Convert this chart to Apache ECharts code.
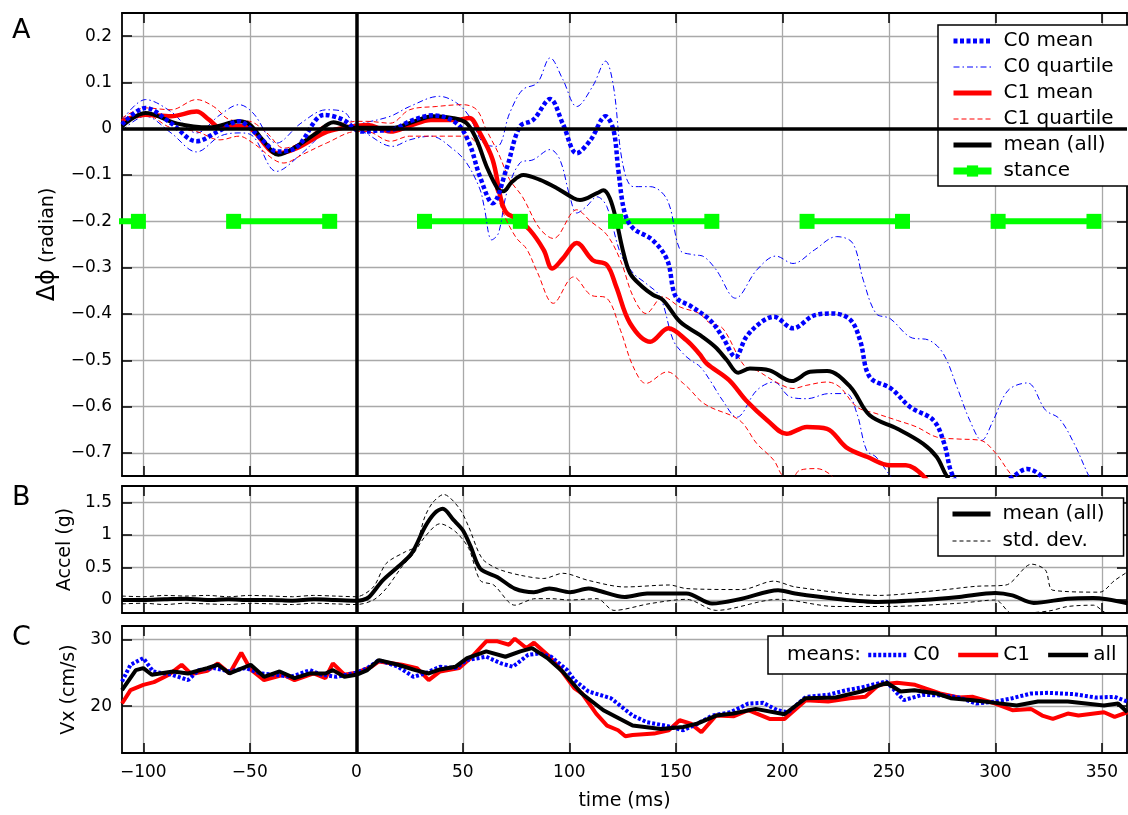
<!DOCTYPE html>
<html lang="en">
<head>
<meta charset="UTF-8">
<title>Phase shift, acceleration and speed</title>
<style>html,body{margin:0;padding:0;background:#fff}</style>
</head>
<body>
<div class="main" style="width:1128px;height:815px"></div>
<script src="https://cdn.jsdelivr.net/npm/echarts@6/dist/echarts.min.js"></script>
<script>
// ---- data (time in ms) ----
var xTicks = [-100, -50, 0, 50, 100, 150, 200, 250, 300, 350];
var phiTicks = [-0.7, -0.6, -0.5, -0.4, -0.3, -0.2, -0.1, 0, 0.1, 0.2];
var accelTicks = [0, 0.5, 1, 1.5];
var vxTicks = [20, 30];

// panel A: phase difference (radian)
var c0Mean = [[-110,0.009],[-99,0.045],[-87,0.012],[-75,-0.027],[-65,-0.006],[-55,0.016],[-50,0.002],[-44,-0.025],[-37,-0.049],[-28,-0.04],[-15,0.03],[-6,0.019],[0,-0.003],[3,-0.006],[10,-0.004],[17,-0.002],[25,0.016],[36,0.029],[47,0.012],[53,-0.031],[58,-0.103],[64,-0.161],[70.6,-0.085],[76.8,0.005],[83,0.019],[91,0.064],[97,0.01],[103.5,-0.053],[110,-0.024],[117,0.027],[120.7,-0.002],[123,-0.089],[126,-0.182],[130,-0.215],[139,-0.24],[146,-0.284],[150,-0.363],[157,-0.383],[166,-0.413],[172,-0.45],[178,-0.493],[183,-0.45],[190,-0.418],[196,-0.406],[205,-0.431],[215,-0.403],[224,-0.399],[232,-0.413],[236.5,-0.457],[241,-0.536],[251,-0.561],[260,-0.601],[271,-0.63],[276,-0.68],[280,-0.749],[290,-0.81],[300,-0.78],[308,-0.752],[315,-0.735],[322,-0.752],[330,-0.8],[345,-0.87],[362,-0.92]];
var c0QuartHi = [[-110,0.018],[-99,0.063],[-87,0.037],[-75,-0.009],[-64,0.03],[-55,0.052],[-48.5,0.034],[-37.4,-0.031],[-26,0.012],[-14,0.041],[-6,0.037],[0,0.009],[3,0.012],[16,0.027],[25,0.048],[39,0.07],[47,0.056],[53,0.027],[59.6,-0.031],[66,-0.038],[72,0.034],[78,0.084],[85,0.099],[91,0.153],[97,0.106],[103.5,0.048],[111,0.092],[117,0.146],[120.7,0.092],[125,-0.074],[130,-0.125],[138,-0.125],[146,-0.154],[152,-0.262],[158,-0.272],[163,-0.276],[169,-0.305],[178,-0.366],[188,-0.305],[197,-0.275],[205,-0.291],[215,-0.262],[225.5,-0.233],[233,-0.247],[238,-0.327],[244,-0.399],[250.6,-0.41],[260,-0.45],[269,-0.457],[275.6,-0.486],[282,-0.558],[288,-0.63],[293.6,-0.673],[299,-0.63],[306,-0.565],[315,-0.549],[323.6,-0.608],[330,-0.626],[337,-0.68],[344,-0.751],[350,-0.8],[362,-0.85]];
var c0QuartLo = [[-110,-0.004],[-99,0.027],[-87,-0.009],[-75,-0.05],[-64,-0.016],[-55,-0.009],[-48.5,-0.016],[-37.4,-0.092],[-26,-0.055],[-14,-0.005],[-6,0.002],[0,-0.003],[3,-0.006],[17,-0.038],[25,-0.024],[35,-0.016],[45.7,-0.045],[51.8,-0.074],[58,-0.13],[60,-0.168],[63.6,-0.24],[66.7,-0.226],[70.6,-0.139],[76.8,-0.074],[83,-0.067],[91,-0.045],[95.6,-0.067],[100.3,-0.147],[103.5,-0.182],[108,-0.168],[113,-0.147],[117.6,-0.168],[124,-0.269],[130,-0.312],[136,-0.334],[142.6,-0.363],[148.8,-0.457],[153.5,-0.486],[157,-0.5],[161.4,-0.514],[166,-0.543],[172,-0.587],[178.6,-0.623],[188,-0.565],[196,-0.547],[203.6,-0.579],[211.5,-0.583],[222,-0.572],[230,-0.572],[235,-0.615],[239.6,-0.695],[244,-0.709],[250.6,-0.749],[260,-0.8],[362,-0.95]];
var c1Mean = [[-110,0.016],[-99,0.03],[-87,0.027],[-75,0.037],[-69,0.019],[-64,0.002],[-55,0.006],[-50,0.002],[-37,-0.053],[-28,-0.042],[-15,-0.009],[-6,0.002],[0,0.006],[5,0.008],[16,-0.006],[25,0.006],[35,0.019],[47,0.019],[53,0.023],[58,-0.009],[64,-0.067],[68,-0.154],[70.6,-0.182],[75,-0.193],[81.5,-0.219],[88,-0.262],[92,-0.302],[97,-0.28],[103.5,-0.247],[111,-0.284],[117.6,-0.294],[122,-0.341],[128.5,-0.42],[138,-0.46],[146.5,-0.431],[155,-0.457],[161,-0.486],[164.5,-0.507],[175,-0.543],[183,-0.587],[193,-0.63],[202,-0.659],[211.5,-0.644],[221,-0.648],[230,-0.688],[240,-0.709],[250.6,-0.727],[258,-0.727],[266,-0.749],[275,-0.8],[290,-0.85],[362,-1.0]];
var c1QuartHi = [[-110,0.023],[-99,0.045],[-87,0.041],[-75,0.063],[-67,0.048],[-59,0.019],[-50,0.016],[-42,-0.009],[-34,-0.042],[-25,-0.027],[-14,0.009],[-6,0.012],[0,0.016],[5,0.016],[16,0.012],[25,0.041],[37.5,0.048],[50,0.052],[56.5,0.041],[61,-0.002],[66.7,-0.053],[72,-0.11],[78,-0.147],[86,-0.215],[92.5,-0.237],[103.5,-0.175],[110,-0.2],[117.6,-0.229],[124,-0.284],[130,-0.363],[136,-0.399],[144,-0.363],[152,-0.385],[161,-0.399],[166,-0.42],[172,-0.431],[182,-0.511],[188,-0.522],[197,-0.547],[205,-0.561],[211.5,-0.554],[221,-0.547],[227,-0.558],[235,-0.601],[244,-0.615],[254,-0.63],[263,-0.644],[272.5,-0.666],[282,-0.67],[293,-0.673],[300,-0.7],[308,-0.75],[320,-0.8],[362,-0.9]];
var c1QuartLo = [[-110,0.009],[-99,0.03],[-87,0.002],[-75,-0.006],[-64,-0.024],[-55,-0.016],[-48.5,-0.031],[-34,-0.074],[-25,-0.055],[-14,-0.031],[0,-0.006],[5,-0.006],[16,-0.027],[25,-0.016],[41,-0.016],[52,-0.016],[58,-0.045],[64,-0.11],[69,-0.182],[75,-0.235],[80,-0.26],[85,-0.31],[92.5,-0.377],[102,-0.32],[110,-0.359],[117.6,-0.366],[124,-0.435],[130,-0.514],[136,-0.55],[146,-0.525],[153.5,-0.55],[157,-0.565],[161.4,-0.587],[166,-0.601],[180,-0.63],[188,-0.68],[196,-0.716],[200,-0.749],[204,-0.76],[208,-0.738],[216,-0.734],[222,-0.745],[230,-0.78],[362,-0.95]];
var allMean = [[-110,0.005],[-99,0.034],[-84,0.011],[-69,0.003],[-55,0.016],[-50,0.009],[-44,-0.024],[-36.6,-0.056],[-28,-0.038],[-18.6,-0.009],[-10.7,0.014],[-1.5,0.002],[3,0.002],[17,0.002],[25,0.012],[36,0.027],[45.7,0.023],[51.8,0.012],[56.5,-0.024],[61.2,-0.082],[66.7,-0.132],[69,-0.135],[73,-0.115],[78.4,-0.1],[86,-0.11],[94,-0.128],[102,-0.15],[105,-0.154],[113,-0.139],[116,-0.133],[119,-0.15],[122,-0.197],[125,-0.26],[128.5,-0.312],[134,-0.34],[139.4,-0.359],[144,-0.37],[152,-0.417],[161.4,-0.446],[168.4,-0.471],[174,-0.5],[179.3,-0.527],[184.8,-0.518],[194,-0.522],[204.4,-0.545],[213,-0.525],[221,-0.523],[232,-0.558],[241,-0.619],[254,-0.648],[266,-0.68],[272.5,-0.709],[277,-0.749],[285,-0.8],[300,-0.86],[362,-1.0]];
var stanceLevel = -0.2;
var stanceOn = [-147, -57.6, 32, 121.7, 211.6, 301.3];
var stanceOff = [-102.3, -12.5, 77, 166.9, 256.4, 346.3];

// panel B: acceleration (g)
var accelMean = [[-110,0.0],[-100,0.0],[-90,0.01],[-80,0.02],[-70,0.0],[-60,0.01],[-50,0.0],[-40,0.0],[-30,-0.01],[-20,0.01],[-10,0.0],[0,-0.01],[3,0.0],[6,0.046],[12.4,0.3],[19.6,0.51],[25.9,0.71],[32.2,1.12],[36.7,1.33],[40.6,1.40],[45.6,1.23],[50,1.07],[53.7,0.82],[58.2,0.48],[66.3,0.35],[74.4,0.175],[83.4,0.12],[90.6,0.175],[100.4,0.12],[109,0.175],[113,0.15],[126,0.046],[136.5,0.1],[155,0.1],[167,-0.055],[181,0.02],[198,0.15],[206,0.1],[225,0.02],[245,-0.03],[266,0.0],[283,0.046],[300,0.108],[308,0.07],[318,-0.046],[334,0.02],[346,0.03],[362,-0.05]];
var accelSdHi = [[-110,0.06],[-100,0.05],[-90,0.07],[-80,0.06],[-70,0.07],[-60,0.05],[-50,0.07],[-40,0.06],[-30,0.05],[-20,0.07],[-10,0.06],[0,0.05],[8,0.2],[14,0.56],[23,0.74],[27.7,0.82],[32.2,1.28],[36,1.5],[41,1.62],[48.3,1.41],[52.8,1.12],[59,0.64],[66.3,0.48],[77,0.38],[88,0.33],[97,0.41],[109,0.3],[126,0.2],[147,0.23],[155,0.175],[181,0.16],[196,0.29],[206,0.2],[245,0.07],[274,0.15],[291,0.21],[305,0.23],[317,0.55],[323.5,0.46],[327,0.15],[349,0.12],[356,0.3],[362,0.43]];
var accelSdLo = [[-110,-0.06],[-100,-0.05],[-90,-0.07],[-80,-0.05],[-70,-0.06],[-60,-0.07],[-50,-0.05],[-40,-0.06],[-30,-0.07],[-20,-0.05],[-10,-0.06],[0,-0.07],[8,0.0],[14,0.175],[21.4,0.51],[26.8,0.71],[32.2,0.97],[39.3,1.17],[46.5,1.05],[52.8,0.79],[58.2,0.3],[64.5,0.23],[74.4,-0.08],[84,0.02],[91.5,0.02],[100,0.0],[113,0.02],[121,-0.16],[138,-0.055],[155,0.01],[169,-0.16],[198,0.01],[225,-0.1],[249,-0.1],[283,-0.05],[300,0.0],[308,-0.21],[325,-0.17],[334,-0.1],[346,-0.08],[352,-0.2],[362,-0.25]];

// panel C: forward speed (cm/s)
var vxC0 = [[-110,23.7],[-106,26.2],[-100,27.2],[-95.4,25.2],[-86.4,24.7],[-79,23.9],[-74,25.4],[-67,25.7],[-59.5,25.2],[-52,25.7],[-45,24.9],[-38,24.7],[-30.7,24.4],[-21.7,25.4],[-16.3,24.7],[-9.2,24.4],[0,25.0],[5.2,25.7],[10.6,26.9],[19.6,25.9],[26.8,24.4],[32.2,24.9],[39.3,25.9],[46.5,25.7],[52,26.9],[61,27.4],[68,26.4],[73.5,25.9],[80.7,27.7],[86,27.9],[91.5,27.4],[96,26.2],[99,25.4],[102.4,23.9],[109,22.2],[119.5,21.2],[129.7,18.6],[136.5,17.6],[145,17.1],[153.5,16.4],[160.3,17.4],[167,18.6],[175.7,19.1],[184,20.4],[191,20.5],[197.7,19.4],[202.8,19.1],[211,21.4],[221.5,21.7],[230,22.4],[237,22.8],[248.7,23.7],[257,20.9],[265.7,21.7],[276,21.6],[283,21.3],[291,20.4],[300,20.7],[308,21.2],[316.7,21.9],[325,22.0],[337,21.8],[347,21.3],[356,21.4],[362,20.7]];
var vxC1 = [[-110,20.4],[-106,22.4],[-100,23.2],[-95,23.6],[-88,24.7],[-82,26.2],[-77.4,24.8],[-70,25.3],[-65,26.4],[-59.5,24.9],[-54,28.0],[-49.6,25.5],[-43.3,23.9],[-34.3,24.7],[-29,23.9],[-20,24.9],[-14.5,24.2],[-11,26.4],[-5.6,24.7],[0,25.0],[7,25.9],[10.6,26.7],[21.4,26.2],[28.5,25.7],[34,23.9],[39.3,25.2],[48.3,25.7],[53.7,27.2],[61,29.7],[66.3,29.7],[71.7,29.2],[74.4,30.1],[79.8,28.7],[83.4,29.5],[89.7,27.7],[95,25.9],[102.3,22.7],[106,21.9],[112.6,18.9],[117.7,17.1],[122.9,16.4],[126.3,15.5],[129.7,15.7],[139.8,15.9],[146.7,16.4],[151.8,17.9],[157,17.4],[162,16.1],[168.8,18.6],[177.3,18.5],[184,19.4],[194,18.1],[201,18.1],[211,20.9],[221.5,20.7],[231.7,21.2],[239,21.4],[245.3,23.2],[253.8,23.5],[262.3,23.2],[274,21.9],[282.7,21.3],[289.5,21.4],[300,20.4],[308,19.4],[316.7,19.6],[322,18.6],[327,18.1],[334,18.9],[339,18.6],[351,19.1],[356,18.4],[362,19.1]];
var vxAll = [[-110,22.4],[-103.5,25.4],[-100,25.7],[-96,24.7],[-86,25.2],[-79,24.9],[-70,25.7],[-65,26.2],[-59.5,24.9],[-49.6,26.2],[-43.3,24.4],[-36,25.2],[-29,24.2],[-21.7,24.9],[-14.5,24.9],[-11,25.4],[-5.6,24.4],[0,24.7],[5.2,25.4],[10.6,26.9],[19.6,26.2],[27.7,25.4],[34,24.9],[39.3,25.5],[46.5,25.9],[52,27.2],[61,28.2],[70,27.4],[77,28.2],[82.5,28.7],[89.7,27.2],[96.8,25.2],[105.8,21.9],[116,19.4],[129.7,17.1],[143,16.6],[153.5,16.9],[160,17.4],[169,18.6],[177,18.9],[187.5,19.6],[201,18.8],[211,21.2],[225,21.3],[237,22.2],[249,23.5],[255.5,22.2],[262,22.4],[272.5,21.9],[279,21.2],[289.5,20.9],[300,20.5],[310,20.1],[320,20.7],[334,20.7],[351,20.1],[357.6,20.4],[362,19.1]];

// ---- chart ----
var FONT = 'DejaVu Sans';
var main = document.querySelector('.main');
var chart = echarts.init(main);

function minus(v) {
    return String(v).replace('-', '\u2212');
}

function xAxes(gi, showLabels) {
    var bottom = {
        gridIndex: gi, type: 'value', min: -110, max: 361.8, position: 'bottom',
        axisLine: {show: true, onZero: false, lineStyle: {color: '#000', width: 1.8}},
        axisTick: {show: true, inside: true, length: 10, customValues: xTicks, lineStyle: {color: '#000', width: 1.5}},
        splitLine: {show: true, lineStyle: {color: '#a9a9a9', width: 1.3}},
        axisLabel: {show: showLabels, customValues: xTicks, margin: 11, color: '#000', fontSize: 17, fontFamily: FONT, formatter: minus}
    };
    if (showLabels) {
        bottom.name = 'time (ms)';
        bottom.nameLocation = 'middle';
        bottom.nameGap = 39;
        bottom.nameTextStyle = {color: '#000', fontSize: 19, fontFamily: FONT};
    }
    var top = {
        gridIndex: gi, type: 'value', min: -110, max: 361.8, position: 'top',
        axisLine: {show: true, onZero: false, lineStyle: {color: '#000', width: 1.8}},
        axisTick: {show: true, inside: true, length: 10, customValues: xTicks, lineStyle: {color: '#000', width: 1.5}},
        splitLine: {show: false},
        axisLabel: {show: false}
    };
    return [bottom, top];
}

function yAxes(gi, min, max, ticks, fmt, name, nameGap, rich) {
    var left = {
        gridIndex: gi, type: 'value', min: min, max: max, position: 'left',
        axisLine: {show: true, onZero: false, lineStyle: {color: '#000', width: 1.8}},
        axisTick: {show: true, inside: true, length: 10, customValues: ticks, lineStyle: {color: '#000', width: 1.5}},
        splitLine: {show: true, lineStyle: {color: '#a9a9a9', width: 1.3}},
        axisLabel: {show: true, customValues: ticks, margin: 10, color: '#000', fontSize: 17, fontFamily: FONT, formatter: fmt},
        name: name, nameLocation: 'middle', nameGap: nameGap,
        nameTextStyle: {color: '#000', fontSize: 19, fontFamily: FONT, rich: rich}
    };
    var right = {
        gridIndex: gi, type: 'value', min: min, max: max, position: 'right',
        axisLine: {show: true, onZero: false, lineStyle: {color: '#000', width: 1.8}},
        axisTick: {show: true, inside: true, length: 10, customValues: ticks, lineStyle: {color: '#000', width: 1.5}},
        splitLine: {show: false},
        axisLabel: {show: false}
    };
    return [left, right];
}

function mk(name, gi, data, color, width, dash, smooth) {
    return {
        name: name, type: 'line', xAxisIndex: gi * 2, yAxisIndex: gi * 2,
        data: data, symbol: 'none', smooth: smooth, clip: true, silent: true,
        lineStyle: {color: color, width: width, type: dash, cap: 'butt'},
        itemStyle: {color: color}, emphasis: {disabled: true}
    };
}

function zeroLines(gi, withY) {
    var d = [{xAxis: 0}];
    if (withY) d.push({yAxis: 0});
    return {
        type: 'line', xAxisIndex: gi * 2, yAxisIndex: gi * 2, data: [], silent: true,
        markLine: {
            silent: true, symbol: ['none', 'none'], label: {show: false},
            lineStyle: {color: '#000', width: 3.5, type: 'solid'},
            emphasis: {disabled: true}, data: d
        }
    };
}

var stanceData = [];
for (var i = 0; i < stanceOn.length; i++) {
    stanceData.push([stanceOn[i], stanceLevel], [stanceOff[i], stanceLevel]);
    if (i < stanceOn.length - 1) stanceData.push([(stanceOff[i] + stanceOn[i + 1]) / 2, '-']);
}

var fmtPhi = function (v) { return v === 0 ? '0' : minus(+v.toFixed(1)); };
var fmtPlain = function (v) { return minus(+v.toFixed(2)); };

var blueDot = [4, 2.5];
var dashDot = [6, 3, 1.5, 3];
var redDash = [5, 3];
var blackDash = [4, 3];

var series = [];
series.push({
    name: 'stance', type: 'line', xAxisIndex: 0, yAxisIndex: 0, data: stanceData,
    symbol: 'rect', symbolSize: 15, showSymbol: true, clip: true, silent: true,
    connectNulls: false,
    lineStyle: {color: '#00ff00', width: 6},
    itemStyle: {color: '#00ff00'},
    emphasis: {disabled: true}
});
series.push(zeroLines(0, true), zeroLines(1, false), zeroLines(2, false));
series.push(
    mk('C0 quartile', 0, c0QuartHi, '#0000ff', 1, dashDot, 0.35),
    mk('C0 quartile', 0, c0QuartLo, '#0000ff', 1, dashDot, 0.35),
    mk('C1 quartile', 0, c1QuartHi, '#ff0000', 1, redDash, 0.35),
    mk('C1 quartile', 0, c1QuartLo, '#ff0000', 1, redDash, 0.35),
    mk('C1 mean', 0, c1Mean, '#ff0000', 4.5, 'solid', 0.35),
    mk('mean (all)', 0, allMean, '#000000', 4, 'solid', 0.35),
    mk('C0 mean', 0, c0Mean, '#0000ff', 4.5, blueDot, 0.35),

    mk('std. dev.', 1, accelSdHi, '#000000', 1, blackDash, 0.3),
    mk('std. dev.', 1, accelSdLo, '#000000', 1, blackDash, 0.3),
    mk('mean (all)', 1, accelMean, '#000000', 4, 'solid', 0.3),

    mk('C1', 2, vxC1, '#ff0000', 4, 'solid', false),
    mk('C0', 2, vxC0, '#0000ff', 4, [3, 2], false),
    mk('all', 2, vxAll, '#000000', 4, 'solid', false)
);

var legendText = {color: '#000', fontSize: 20, fontFamily: FONT, padding: [0, 0, 0, 7]};
var noMark = {opacity: 0};
function legendLine(name, width) {
    return {name: name, itemStyle: noMark, lineStyle: {width: width}};
}

var option = {
    animation: false,
    backgroundColor: '#fff',
    textStyle: {fontFamily: FONT},
    grid: [
        {left: 122, top: 13, width: 1005, height: 463, containLabel: false, outerBoundsMode: 'none'},
        {left: 122, top: 486, width: 1005, height: 127, containLabel: false, outerBoundsMode: 'none'},
        {left: 122, top: 626, width: 1005, height: 127, containLabel: false, outerBoundsMode: 'none'}
    ],
    xAxis: xAxes(0, false).concat(xAxes(1, false), xAxes(2, true)),
    yAxis: yAxes(0, -0.75, 0.25, phiTicks, fmtPhi, '{a|\u0394\u03d5} {b|(radian)}', 38,
            {a: {fontSize: 24, fontFamily: FONT, color: '#000'}, b: {fontSize: 19, fontFamily: FONT, color: '#000'}})
        .concat(yAxes(1, -0.2, 1.75, accelTicks, fmtPlain, 'Accel (g)', 43))
        .concat(yAxes(2, 13, 32, vxTicks, fmtPlain, 'Vx (cm/s)', 43)),
    legend: [
        {
            data: [
                legendLine('C0 mean', 5),
                legendLine('C0 quartile', 1),
                legendLine('C1 mean', 5),
                legendLine('C1 quartile', 1),
                legendLine('mean (all)', 5),
                {name: 'stance', itemStyle: {opacity: 1, color: '#00ff00'}, lineStyle: {width: 7}}
            ],
            orient: 'vertical', left: 938, top: 25, padding: [6, 19, 5, 12],
            itemGap: 6, itemWidth: 38, itemHeight: 14, selectedMode: false,
            backgroundColor: '#fff', borderColor: '#000', borderWidth: 1.5, borderRadius: 0,
            textStyle: legendText
        },
        {
            data: [legendLine('mean (all)', 5), legendLine('std. dev.', 1)],
            orient: 'vertical', left: 938, top: 498, padding: [6, 19, 5, 12],
            itemGap: 7, itemWidth: 38, itemHeight: 14, selectedMode: false,
            backgroundColor: '#fff', borderColor: '#000', borderWidth: 1.5, borderRadius: 0,
            textStyle: legendText
        },
        {
            data: [legendLine('C0', 4.5), legendLine('C1', 4.5), legendLine('all', 4.5)],
            orient: 'horizontal', left: 768, top: 636, padding: [9, 11, 9, 98],
            itemGap: 16, itemWidth: 40, itemHeight: 14, selectedMode: false,
            backgroundColor: '#fff', borderColor: '#000', borderWidth: 1.5, borderRadius: 0,
            textStyle: {color: '#000', fontSize: 20, fontFamily: FONT}
        }
    ],
    graphic: [
        {type: 'text', left: 12, top: 17, z: 100, style: {text: 'A', fontSize: 27, fontFamily: FONT, fill: '#000'}},
        {type: 'text', left: 12, top: 484, z: 100, style: {text: 'B', fontSize: 27, fontFamily: FONT, fill: '#000'}},
        {type: 'text', left: 12, top: 624, z: 100, style: {text: 'C', fontSize: 27, fontFamily: FONT, fill: '#000'}},
        {type: 'text', left: 787, top: 645, z: 100, style: {text: 'means:', fontSize: 20, fontFamily: FONT, fill: '#000'}}
    ],
    series: series
};

chart.setOption(option);
window.onresize = function () { chart.resize(); };
</script>
</body>
</html>
